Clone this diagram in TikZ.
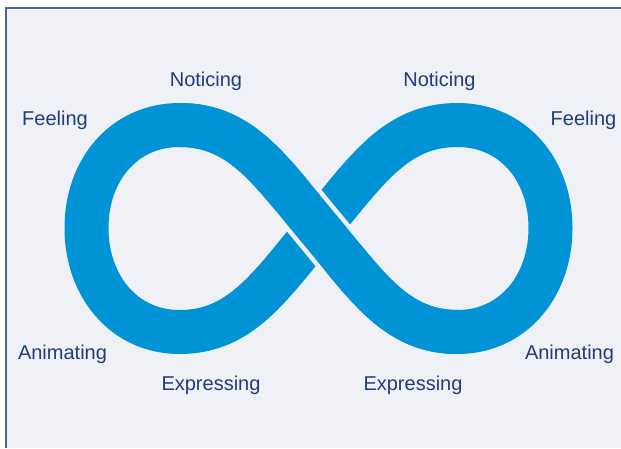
\documentclass[tikz,border=0pt]{standalone}
\usepackage{fontspec}
\setmainfont{Liberation Sans}
\definecolor{panel}{HTML}{F0F0F7}
\definecolor{frame}{HTML}{4D6797}
\definecolor{loopblue}{HTML}{0094D6}
\definecolor{labelblue}{HTML}{1F3E78}
\begin{document}
\begin{tikzpicture}[x=1pt,y=-1pt,
  stagetext/.style={text=labelblue, font=\fontsize{20}{24}\selectfont, inner sep=0pt, anchor=base},
  band/.style={draw=loopblue, line width=44pt, line join=round},
  gapband/.style={draw=panel, line width=53pt, line cap=butt}]
\useasboundingbox (0,0) rectangle (621,448);
\fill[white] (0,0) rectangle (621,448);
\fill[panel] (6,8) rectangle (621,448);
\draw[frame, line width=1.5pt] (6,448) -- (6,8) -- (621,8);

% centre line of the loop
\coordinate (O)  at (318.5,228);
\coordinate (TR) at (457.5,125);
\coordinate (R)  at (550.5,228);
\coordinate (BR) at (457.5,332);
\coordinate (TL) at (179.5,125);
\coordinate (L)  at (86.5,228);
\coordinate (BL) at (179.5,332);

% whole band
\draw[band] (O) .. controls (366.7,170.5) and (395.5,125) .. (TR)
  .. controls (513,125) and (550.5,170) .. (R)
  .. controls (550.5,286) and (513,332) .. (BR)
  .. controls (395.5,332) and (366.7,285.5) .. (O)
  .. controls (270.3,170.5) and (241.5,125) .. (TL)
  .. controls (124,125) and (86.5,170) .. (L)
  .. controls (86.5,286) and (124,332) .. (BL)
  .. controls (241.5,332) and (270.3,285.5) .. (O) -- cycle;

% gap cut into the strand that passes under
\begin{scope}
  \clip (O) circle (46);
  \draw[gapband] (BR) .. controls (395.5,332) and (366.7,285.5) .. (O)
    .. controls (270.3,170.5) and (241.5,125) .. (TL);
\end{scope}

% strand passing over at the crossing
\draw[band, line cap=butt] (BR) .. controls (395.5,332) and (366.7,285.5) .. (O)
  .. controls (270.3,170.5) and (241.5,125) .. (TL);

\node[stagetext] (noticeL) at (206,86) {Noticing};
\node[stagetext] (noticeR) at (439.5,86) {Noticing};
\node[stagetext] (feelL) at (55,125) {Feeling};
\node[stagetext] (feelR) at (583.5,125) {Feeling};
\node[stagetext] (animL) at (62.5,359) {Animating};
\node[stagetext] (animR) at (569.5,359) {Animating};
\node[stagetext] (exprL) at (211,390) {Expressing};
\node[stagetext] (exprR) at (413,390) {Expressing};
\end{tikzpicture}
\end{document}
